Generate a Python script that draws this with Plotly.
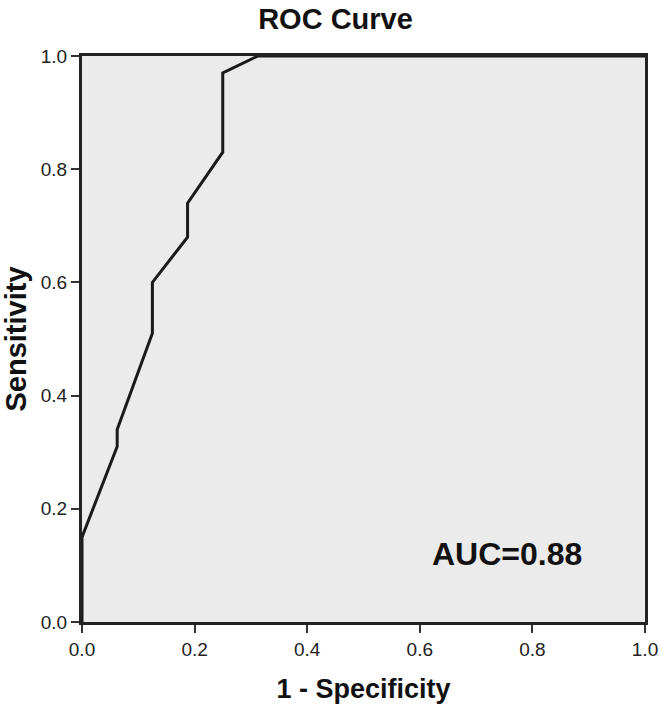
import plotly.graph_objects as go

fpr = [0.0, 0.0, 0.0625, 0.0625, 0.125, 0.125, 0.1875, 0.1875, 0.25, 0.25, 0.3125, 1.0]
sensitivity = [0.0, 0.15, 0.31, 0.34, 0.51, 0.60, 0.68, 0.74, 0.83, 0.97, 1.0, 1.0]
tick_vals = [0.0, 0.2, 0.4, 0.6, 0.8, 1.0]
tick_text = ["0.0", "0.2", "0.4", "0.6", "0.8", "1.0"]
auc_label = "AUC=0.88"

FONT = "Liberation Sans"

fig = go.Figure()
fig.add_trace(go.Scatter(x=fpr, y=sensitivity, mode="lines",
                         line=dict(color="#1a1a1a", width=3), showlegend=False))

fig.add_annotation(x=0.755, y=0.12, xref="x", yref="y", text="<b>" + auc_label + "</b>",
                   showarrow=False, font=dict(size=32, color="#111111", family=FONT))

axis_common = dict(range=[0, 1], tickvals=tick_vals, ticktext=tick_text,
                   ticks="outside", ticklen=8, tickwidth=2, tickcolor="#333333",
                   showline=True, linecolor="#222222", linewidth=3, mirror=True,
                   showgrid=False, zeroline=False, automargin=False,
                   tickfont=dict(size=19, color="#222222", family=FONT))

fig.update_layout(
    width=671, height=713,
    margin=dict(l=82, r=26, t=56, b=91),
    paper_bgcolor="white", plot_bgcolor="#ebebeb",
    title=dict(text="<b>ROC Curve</b>", x=0.5, xanchor="center", y=1 - 19 / 713, yanchor="middle",
               font=dict(size=29, color="#111111", family=FONT)),
    xaxis=dict(**axis_common, title=dict(text="<b>1 - Specificity</b>", standoff=21,
               font=dict(size=27, color="#111111", family=FONT))),
    yaxis=dict(**axis_common, title=dict(text="<b>Sensitivity</b>", standoff=6,
               font=dict(size=29, color="#111111", family=FONT))),
)

fig.write_html("out.html", config={"displayModeBar": False},
               post_script="document.body.style.margin='0';")
